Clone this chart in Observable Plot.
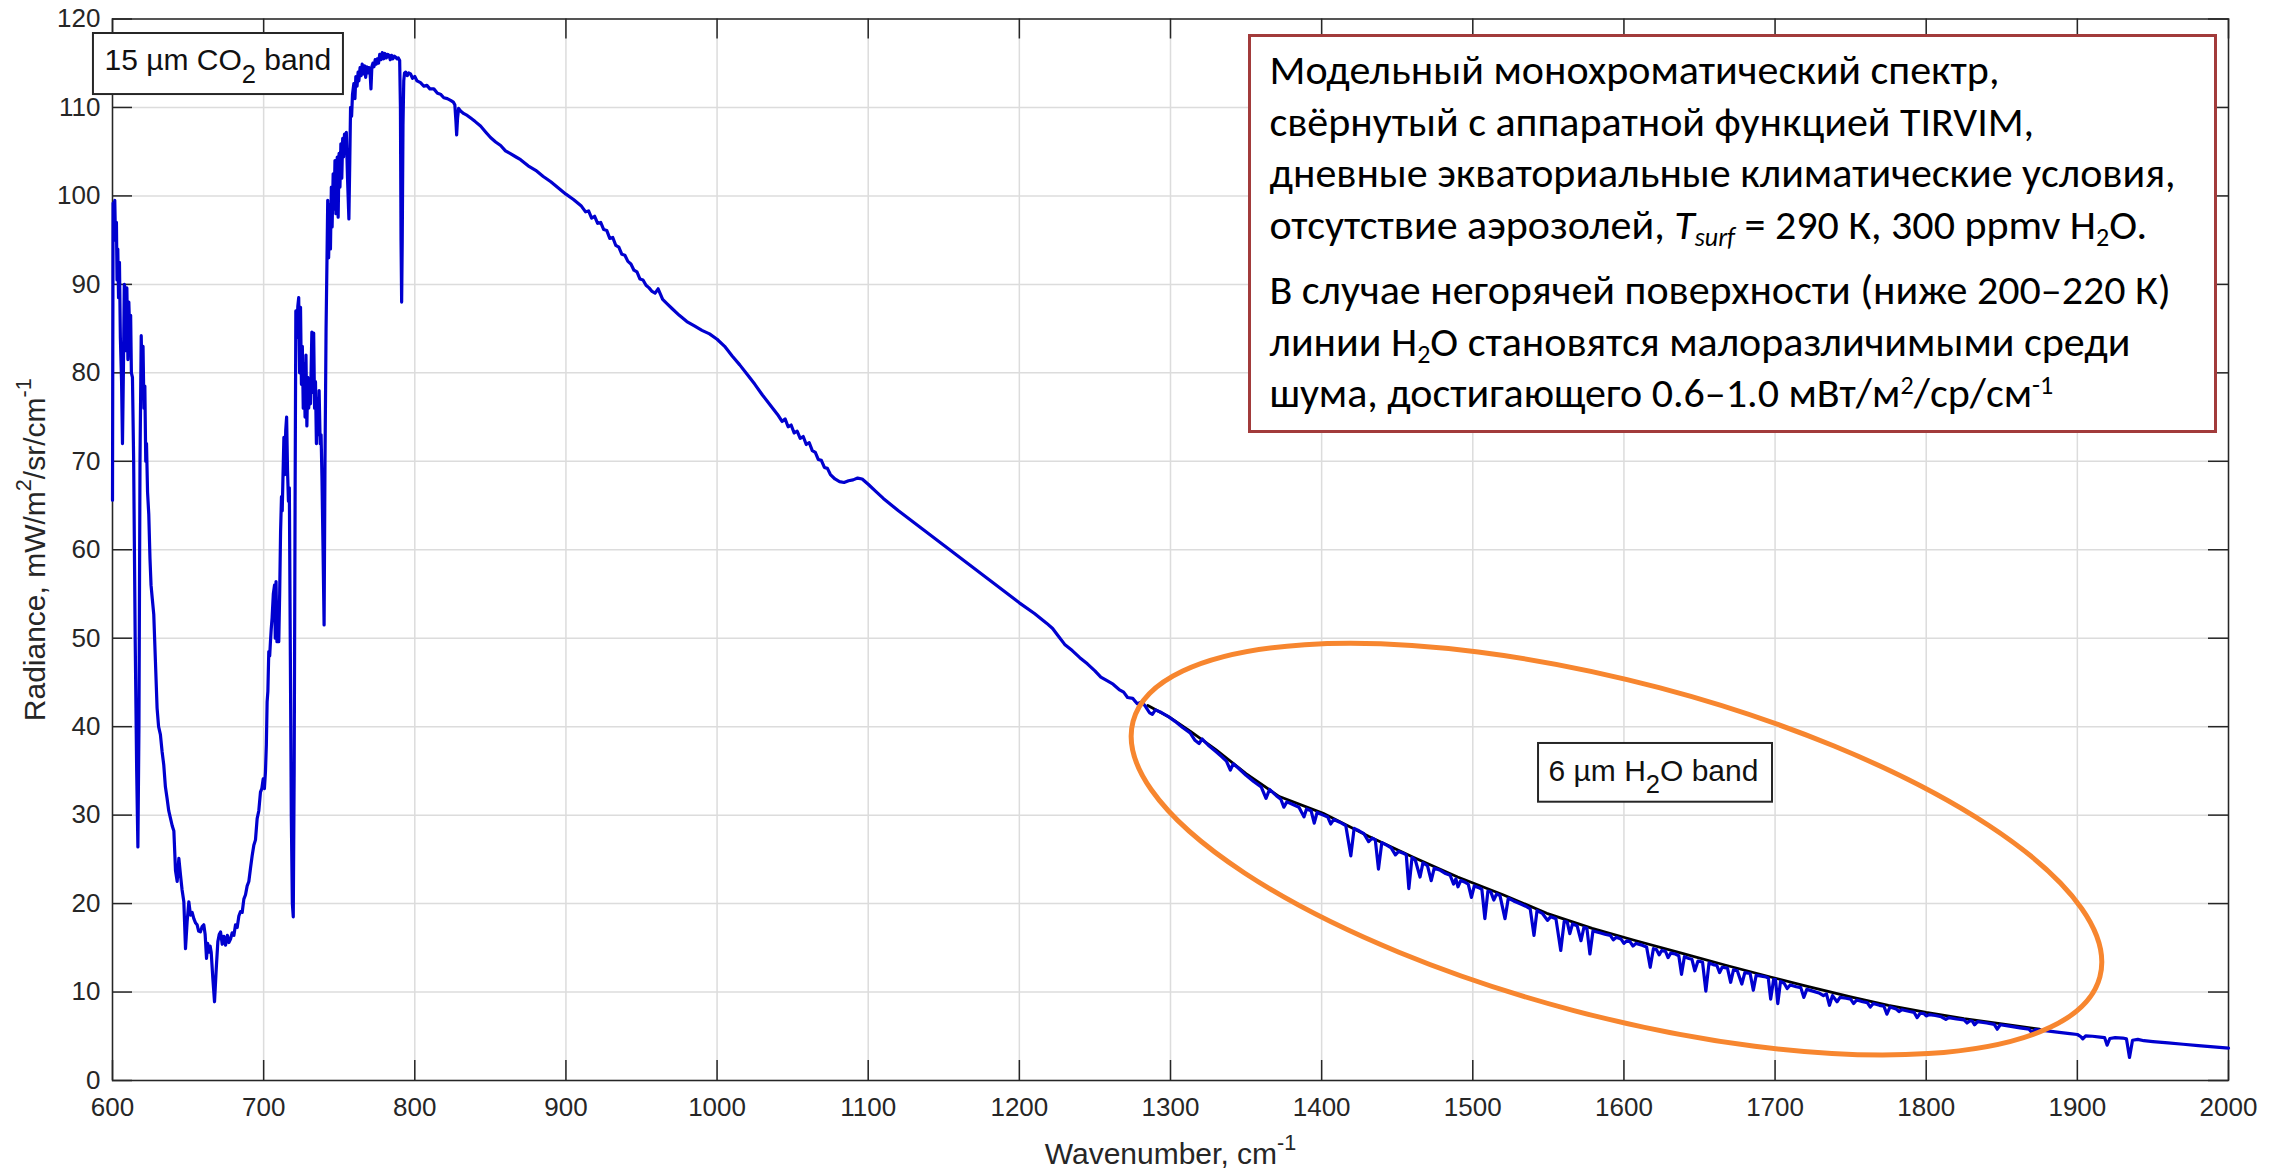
<!DOCTYPE html>
<html>
<head>
<meta charset="utf-8">
<script src="https://cdn.jsdelivr.net/npm/d3@7"></script>
<script src="https://cdn.jsdelivr.net/npm/@observablehq/plot@0.6"></script>
<style>
  html, body { margin: 0; padding: 0; background: #fff; }
  #chart { position: relative; width: 2288px; height: 1172px; overflow: hidden; }
  .note {
    position: absolute; box-sizing: border-box;
    border: 3.5px solid #a23b3b; background: #fff; color: #000;
    font-family: Carlito, Lato, "Noto Sans", sans-serif; font-size: 42px;
    line-height: 51.5px; padding: 7px 0 0 18.5px; white-space: nowrap;
  }
  .note .gap { margin-top: 14px; }
  .note sub, .note sup { font-size: 0.62em; line-height: 0; position: relative; vertical-align: baseline; }
  .note sub { top: 0.28em; }
  .note sup { top: -0.5em; }
</style>
</head>
<body>
<div id="chart"></div>
<script>
(function () {
// ---- axis ticks -------------------------------------------------------
const xTicks = [600, 700, 800, 900, 1000, 1100, 1200, 1300, 1400, 1500, 1600, 1700, 1800, 1900, 2000];
const yTicks = [0, 10, 20, 30, 40, 50, 60, 70, 80, 90, 100, 110, 120];

// ---- model spectrum, [wavenumber cm-1, radiance mW/m2/sr/cm-1] ---------
// 15 µm CO2 band
const co2Band = [
  [600.0,65.6],[600.4,99.2],[601.0,97.0],[601.5,99.5],[602.0,95.0],[602.6,97.0],[603.0,90.5],[603.5,94.0],
  [604.0,88.5],[604.6,92.5],[605.2,84.0],[606.0,79.0],[606.6,72.0],[607.2,80.0],[607.8,90.0],[608.4,89.5],
  [609.0,82.5],[609.5,89.6],[610.2,81.5],[610.8,88.0],[611.4,84.5],[612.0,86.5],[612.5,80.0],[613.2,79.5],
  [614.0,70.0],[615.0,50.0],[616.0,35.0],[616.8,26.4],[617.5,40.0],[618.2,70.0],[619.0,84.2],[619.6,79.0],
  [620.2,83.0],[620.8,76.0],[621.4,78.5],[622.0,70.0],[622.5,72.0],[623.2,66.5],[624.0,64.0],[624.8,59.0],
  [625.5,56.0],[626.3,54.5],[627.3,52.7],[628.4,47.4],[629.5,42.1],[630.5,40.0],[631.7,39.1],[632.8,37.2],
  [633.9,35.7],[635.0,33.2],[636.1,31.9],[637.2,30.5],[638.3,29.7],[639.5,28.8],[640.6,28.2],[641.7,23.7],
  [642.8,22.5],[643.9,25.1],[645.0,23.2],[646.0,21.6],[647.2,20.2],[648.3,14.9],[649.4,18.0],[650.5,20.2],
  [651.6,18.7],[652.7,19.0],[653.8,18.3],[655.0,17.8],[656.0,17.6],[657.0,16.9],[658.2,16.8],[659.3,17.4],
  [660.4,17.6],[661.3,16.5],[662.2,13.8],[663.0,15.5],[663.8,14.5],[664.6,15.2],[665.3,14.5],[666.4,11.5],
  [667.5,8.9],[668.6,12.5],[669.7,15.7],[670.6,16.5],[671.5,16.8],[672.6,15.4],[673.7,16.3],[674.8,15.3],
  [676.0,16.4],[677.0,15.6],[678.1,16.0],[679.2,16.7],[680.3,16.4],[681.4,17.6],[682.5,17.3],[683.6,18.6],
  [684.7,19.1],[685.8,19.0],[686.9,20.5],[688.0,21.0],[689.1,22.0],[690.2,22.5],[691.3,24.0],[692.4,25.4],
  [693.5,26.6],[694.6,27.2],[695.7,29.6],[696.8,30.5],[697.9,32.6],[698.8,33.0],[699.7,34.1],[700.5,33.0],
  [701.2,34.9],[701.8,38.0],[702.3,42.8],[702.8,44.0],[703.4,48.5],[704.0,48.0],[704.5,49.6],[705.0,51.0],
  [705.6,52.3],[706.4,55.0],[707.2,56.0],[707.7,50.0],[708.2,56.4],[708.8,49.6],[709.4,54.0],[710.0,49.6],
  [710.6,55.0],[711.2,62.0],[711.8,66.0],[712.3,64.4],[712.8,68.3],[713.4,72.7],[714.0,68.5],[714.6,73.5],
  [715.2,75.0],[715.8,69.0],[716.4,65.5],[717.0,67.0],[717.6,50.0],[718.3,30.0],[719.0,20.0],[719.6,18.5],
  [720.2,35.0],[720.8,65.0],[721.3,87.0],[722.0,84.0],[722.6,87.5],[723.2,88.5],[723.8,80.0],[724.4,87.4],
  [725.0,78.7],[725.6,83.0],[726.2,76.0],[726.8,81.0],[727.4,75.0],[728.0,82.0],[728.6,74.0],[729.2,79.5],
  [729.8,76.0],[730.4,78.0],[731.0,76.5],[731.9,84.6],[732.5,77.8],[733.1,84.5],[733.7,76.0],[734.3,79.0],
  [734.9,72.0],[735.5,77.0],[736.1,73.0],[736.7,78.0],[737.4,72.0],[738.0,73.0],[738.6,68.0],[739.3,60.0],
  [740.0,51.5],[740.6,70.0],[741.3,85.0],[741.9,92.7],[742.4,99.5],[743.0,93.0],[743.6,99.0],[744.2,94.0],
  [744.8,101.0],[745.3,96.5],[746.0,102.5],[746.6,98.5],[747.2,104.0],[747.8,98.0],[748.7,104.4],[749.3,97.6],
  [749.9,104.8],[750.5,101.0],[751.1,105.9],[751.7,102.0],[752.3,106.5],[752.9,104.4],[753.5,107.0],[754.1,105.0],
  [754.7,107.2],[755.5,102.0],[756.4,97.4],[757.0,104.0],[757.5,110.0],[758.2,109.0],[758.8,111.5],[759.7,112.7],
  [760.4,111.0],[761.0,113.5],[761.8,112.4],[762.5,114.0],[763.0,113.0],[763.8,114.5],[764.5,113.6],[765.2,114.9],
  [766.0,113.8],[766.8,114.7],[767.5,113.4],[768.3,114.6],[769.0,113.9],[769.6,114.5],[770.4,114.0],[771.0,112.1],
  [771.6,114.6],[772.3,115.0],[773.0,114.6],[773.8,115.4],[774.5,114.9],[775.2,115.5],[776.0,115.0],[776.8,116.0],
  [777.6,115.4],[778.5,116.2],[779.4,115.5],[780.3,116.1],[781.2,115.6],[782.1,116.0],[782.9,115.9],[783.8,115.4],
  [784.6,115.9],[785.5,115.5],[786.4,115.8],[787.3,115.7],[788.2,115.5],[789.1,115.6],[790.0,115.3],[790.5,110.0],
  [790.9,95.0],[791.3,88.0],[791.7,95.0],[792.2,108.0],[792.7,113.0],[793.2,113.9],[794.0,114.0],[795.0,113.6],
  [796.0,113.9],[797.2,113.8],[798.5,113.3],[800.0,113.5],[801.5,113.0],[803.8,112.8],[806.0,112.4],[808.0,112.5],
  [810.0,112.1],[812.6,112.1],[815.0,111.6],[817.0,111.5],[819.2,111.1],[821.5,111.0],[823.7,110.8],[825.5,110.6],
  [826.5,110.3],[827.2,108.5],[827.7,106.9],[828.3,108.8],[829.0,109.9],[830.3,109.6],[832.5,109.3],[834.7,109.1],
  [837.0,108.8],[840.0,108.4],[843.5,107.9],[847.0,107.2],[850.1,106.6],[853.5,106.1],[856.8,105.7],[860.0,105.1]
];
// atmospheric window
const windowRegion = [
  [863,104.8],[867,104.4],[870,104.1],[875,103.4],[880,102.9],[885,102.2],[890,101.6],[895,100.9],
  [900,100.2],[905,99.6],[910,98.9],[913,98.2],[915,98.3],[917,97.5],[919,97.7],[921,96.9],[923,97.0],
  [925,96.2],[927,96.1],[929,95.2],[931,95.3],[933,94.4],[935,94.2],[937,93.4],[939,93.3],[941,92.6],
  [943,92.3],[945,91.6],[947,91.4],[949,90.6],[951,90.5],[953,89.9],[955,89.6],[957,89.2],[959,89.0],
  [961,89.5],[962.5,88.9],[964,88.3],[967,87.8],[970,87.3],[975,86.5],[980,85.8],[985,85.3],[990,84.8],
  [995,84.4],[1000,83.8],[1005,83.0],[1010,81.9],[1015,80.9],[1020,79.8],[1025,78.7],[1030,77.5],
  [1035,76.4],[1040,75.3],[1043,74.5],[1045,74.8],[1047,73.9],[1049,74.1],[1051,73.2],[1053,73.4],
  [1055,72.6],[1057,72.8],[1059,71.9],[1061,72.1],[1063,71.2],[1065,71.0],[1067,70.2],[1069,70.1],
  [1071,69.3],[1073,69.2],[1075,68.5],[1078,68.0],[1081,67.7],[1084,67.6],[1087,67.8],[1090,67.9],
  [1093,68.1],[1096,68.0],[1100,67.4],[1105,66.6],[1110,65.8],[1120,64.4],[1130,63.1],[1140,61.8],
  [1150,60.5],[1160,59.2],[1170,57.9],[1180,56.6],[1190,55.3],[1200,54.0],[1210,52.8],[1218,51.7],
  [1222,51.1],[1226,50.2],[1230,49.3],[1235,48.6],[1240,47.8],[1245,47.1],[1250,46.3]
];
// 6 µm H2O band
const h2oBand = [
  [1253.9,45.6],[1258,45.2],[1262,44.8],[1266,44.2],[1269,43.9],[1271.6,43.3],[1275,43.2],[1278,42.6],
  [1281,42.8],[1283.4,42.3],[1286,41.6],[1288,41.4],[1290,41.9],[1294,41.6],[1298,41.2],[1303,40.6],
  [1308,39.9],[1313,39.3],[1316,38.5],[1318.9,38.1],[1321,38.6],[1325,37.9],[1330,37.2],[1334,36.6],
  [1337,36.1],[1339.6,35.1],[1341.5,35.8],[1345,35.3],[1350,34.5],[1355,33.8],[1360,33.2],[1363.2,31.9],
  [1365.5,32.9],[1370,32.2],[1373,31.8],[1375,30.9],[1377,31.5],[1381,31.2],[1385,30.9],[1388.3,29.8],
  [1390,30.7],[1393,30.5],[1395.1,29.1],[1397,30.3],[1401,30.0],[1404,29.8],[1406,29.0],[1408,29.5],
  [1412,29.2],[1416,28.8],[1419.3,25.4],[1421.5,28.5],[1425,28.2],[1428,27.9],[1431.1,27.0],[1433.5,27.4],
  [1435.5,27.2],[1437.6,23.9],[1439.8,26.9],[1443,26.6],[1446,26.3],[1448.8,25.5],[1451,25.9],[1454,25.7],
  [1456,25.5],[1457.7,21.7],[1459.8,25.2],[1462,24.9],[1465.1,23.0],[1467,24.6],[1470,24.3],[1472.5,22.6],
  [1474.5,24.0],[1478,23.8],[1482,23.4],[1485,23.2],[1487.3,22.2],[1488.8,22.8],[1490.2,21.9],[1492,22.6],
  [1495,22.4],[1497,22.2],[1499.1,20.7],[1501,22.0],[1504,21.8],[1506,21.6],[1508,18.3],[1510,21.4],
  [1512,21.3],[1513.9,20.4],[1515.8,21.1],[1518,20.9],[1521.3,18.3],[1523.5,20.6],[1527,20.3],[1531,20.0],
  [1535,19.7],[1538,19.4],[1540.5,16.4],[1542.5,19.2],[1546,18.9],[1549.4,18.1],[1551.5,18.5],[1555,18.3],
  [1558.2,14.7],[1560.5,18.0],[1562.5,17.9],[1564.2,16.6],[1566,17.7],[1569,17.5],[1571.6,15.8],[1573.5,17.3],
  [1575.5,17.2],[1577.5,14.3],[1579.5,16.9],[1584,16.7],[1588,16.5],[1591,16.4],[1593,15.9],[1595,16.2],
  [1598,16.0],[1600,15.5],[1602,15.8],[1604,15.7],[1606,15.2],[1608,15.5],[1612,15.3],[1615,15.1],
  [1617.4,12.8],[1619.5,14.9],[1621.5,14.8],[1623.3,14.2],[1625,14.7],[1627.5,14.6],[1629.2,13.9],[1631,14.4],
  [1634,14.3],[1636.3,14.1],[1638.1,12.0],[1640,14.0],[1643,13.8],[1645,13.7],[1646.9,12.4],[1649,13.5],
  [1652,13.4],[1654.2,10.1],[1656.3,13.3],[1659,13.1],[1661.5,13.0],[1663.3,12.2],[1665,12.8],[1668.5,12.7],
  [1670.6,11.1],[1672.5,12.5],[1675,12.4],[1678,10.9],[1680,12.2],[1683.5,12.1],[1685.6,10.2],[1687.5,11.9],
  [1691,11.8],[1694,11.7],[1695.5,11.6],[1697.1,9.2],[1699,11.4],[1700.3,11.4],[1701.8,8.7],[1703.6,11.2],
  [1706,11.0],[1708,10.4],[1710,10.8],[1714,10.6],[1717,10.5],[1719,9.4],[1721,10.3],[1725,10.1],
  [1729,9.9],[1732,9.6],[1734,9.8],[1736,8.5],[1738,9.6],[1741,8.9],[1743,9.4],[1747,9.3],
  [1750,9.2],[1752,8.7],[1754,9.1],[1758,8.9],[1761,8.8],[1763,8.3],[1765,8.7],[1769,8.5],
  [1772,8.4],[1774,7.5],[1776,8.3],[1780,8.1],[1782,7.8],[1784,8.0],[1789,7.8],[1792,7.7],
  [1794,7.1],[1796,7.6],[1798.5,7.55],[1800,7.3],[1802,7.45],[1806,7.35],[1810,7.2],[1813,6.9],
  [1815,7.1],[1820,6.95],[1825,6.85],[1827,6.5],[1829,6.75],[1830.5,6.7],[1832,6.3],[1834,6.65],
  [1840,6.5],[1845,6.35],[1847,5.8],[1849,6.3],[1855,6.15],[1862,5.95],[1868,5.8],[1870,5.4],
  [1872,5.75],[1880,5.6],[1888,5.45],[1895,5.3],[1900,5.2],[1902,5.0],[1903.6,4.7],[1905.5,5.05],
  [1910,5.0],[1915,4.9],[1918,4.85],[1919.7,4.0],[1921.5,4.75],[1925,4.85],[1930,4.8],[1932.5,4.7],
  [1934.5,2.6],[1936.5,4.55],[1940,4.65],[1944,4.5],[1950,4.4],[1960,4.25],[1970,4.1],[1980,3.95],
  [1990,3.8],[2000,3.65]
];
// line-free continuum over the H2O band
const continuumH2O = [
  [1285,42.4],[1300,41.0],[1313,39.5],[1330,37.4],[1350,34.7],[1372,32.1],[1401,30.2],[1431,27.6],
  [1461,25.2],[1490,23.0],[1520,21.0],[1549,18.9],[1579,17.2],[1608,15.8],[1638,14.4],[1668,13.0],
  [1697,11.7],[1720,10.7],[1750,9.45],[1775,8.5],[1800,7.7],[1825,7.0],[1850,6.4],[1875,5.8]
];

// ---- texts ------------------------------------------------------------
const xLabelParts = [["Wavenumber, cm"], ["-1", "sup"]];
const yLabelParts = [["Radiance, mW/m"], ["2", "sup"], ["/sr/cm"], ["-1", "sup"]];
const bandLabelParts = [
  [["15 µm CO"], ["2", "sub"], [" band"]],
  [["6 µm H"], ["2", "sub"], ["O band"]]
];
const noteParagraph1 = [
  "Модельный монохроматический спектр,",
  "свёрнутый с аппаратной функцией TIRVIM,",
  "дневные экваториальные климатические условия,",
  "отсутствие аэрозолей, <i>T</i><sub><i>surf</i></sub> = 290 К, 300 ppmv H<sub>2</sub>O."
];
const noteParagraph2 = [
  "В случае негорячей поверхности (ниже 200–220 К)",
  "линии H<sub>2</sub>O становятся малоразличимыми среди",
  "шума, достигающего 0.6–1.0 мВт/м<sup>2</sup>/ср/см<sup>-1</sup>"
];

// ---- annotation placement (data units) --------------------------------
const bandBoxes = [
  {x1: 587.4, x2: 752.8, y1: 111.46, y2: 118.36, tx: 594.7, ty: 114.18},
  {x1: 1543.5, x2: 1698.3, y1: 31.46, y2: 38.10, tx: 1550.1, ty: 33.91}
];
const noteBox = {x1: 1351.6, x2: 1992.7, y1: 73.1, y2: 118.2};
const bandEllipse = {cx: 1595.4, cy: 26.1, rx: 500, ry: 167, angle: 14.8}; // rx/ry in px, angle in deg

// ---- layout -----------------------------------------------------------
const W = 2288, H = 1172;
const M = {left: 112, right: 60, top: 18.5, bottom: 92};
const frameW = W - M.left - M.right;
const frameH = H - M.top - M.bottom;
const TICK = 20;
const ink = "#262626";
const LABEL_SIZE = 30;

const toRows = (pairs) => pairs.map(([wn, rad]) => ({wn, rad}));
const spectrum = toRows([...co2Band, ...windowRegion, ...h2oBand]);
const continuum = toRows(continuumH2O);
const plain = (parts) => parts.map((p) => p[0]).join("");

const chart = Plot.plot({
  width: W, height: H,
  marginLeft: M.left, marginRight: M.right, marginTop: M.top, marginBottom: M.bottom,
  style: {fontFamily: '"Liberation Sans", Arial, Helvetica, sans-serif', fontSize: "26px", color: ink, background: "#fff", overflow: "visible"},
  x: {domain: [600, 2000]},
  y: {domain: [0, 120]},
  marks: [
    Plot.gridX({ticks: xTicks, stroke: "#dcdcdc", strokeOpacity: 1, strokeWidth: 1.5}),
    Plot.gridY({ticks: yTicks, stroke: "#dcdcdc", strokeOpacity: 1, strokeWidth: 1.5}),
    Plot.axisX({ticks: xTicks, tickSize: 0, tickPadding: 17, tickFormat: (d) => String(d), label: null, fill: ink, fontSize: 26}),
    Plot.axisY({ticks: yTicks, tickSize: 0, tickPadding: 12, tickFormat: (d) => String(d), label: null, fill: ink, fontSize: 26}),
    // inward ticks on all four sides
    Plot.tickX(xTicks, {x: (d) => d, insetTop: frameH - TICK, stroke: ink, strokeWidth: 1.5}),
    Plot.tickX(xTicks, {x: (d) => d, insetBottom: frameH - TICK, stroke: ink, strokeWidth: 1.5}),
    Plot.tickY(yTicks, {y: (d) => d, insetRight: frameW - TICK, stroke: ink, strokeWidth: 1.5}),
    Plot.tickY(yTicks, {y: (d) => d, insetLeft: frameW - TICK, stroke: ink, strokeWidth: 1.5}),
    Plot.frame({stroke: ink, strokeWidth: 1.5}),
    Plot.line(continuum, {x: "wn", y: "rad", stroke: "#000", strokeWidth: 2.8}),
    Plot.line(spectrum, {x: "wn", y: "rad", stroke: "#0000cf", strokeWidth: 3.2, strokeLinejoin: "round"}),
    Plot.rect(bandBoxes, {x1: "x1", x2: "x2", y1: "y1", y2: "y2", fill: "#fff", stroke: ink, strokeWidth: 2}),
    Plot.text(bandBoxes, {x: "tx", y: "ty", text: (d, i) => plain(bandLabelParts[i]), textAnchor: "start", lineAnchor: "bottom",
      fontSize: 30, fill: "#111"}),
    Plot.text([plain(xLabelParts)], {frameAnchor: "bottom", dy: 83, textAnchor: "middle", lineAnchor: "bottom", fontSize: LABEL_SIZE, fill: ink}),
    Plot.text([plain(yLabelParts)], {frameAnchor: "left", dx: -68, rotate: -90, textAnchor: "middle", lineAnchor: "bottom", fontSize: LABEL_SIZE, fill: ink})
  ]
});

// rich text: subscripts / superscripts as shifted tspans
function setRich(textEl, parts, size, {sub = 0.42, sup = 0.45, scale = 0.72} = {}) {
  const NS = "http://www.w3.org/2000/svg";
  while (textEl.firstChild) textEl.removeChild(textEl.firstChild);
  let shift = 0;
  for (const [str, kind] of parts) {
    const t = document.createElementNS(NS, "tspan");
    const target = kind === "sub" ? sub * size : kind === "sup" ? -sup * size : 0;
    if (target !== shift) { t.setAttribute("dy", target - shift); shift = target; }
    if (kind) t.setAttribute("font-size", scale * size);
    t.textContent = str;
    textEl.appendChild(t);
  }
}
const richTexts = [
  ...bandLabelParts.map((parts) => ({parts, size: 30, opts: {sub: 0.42, scale: 0.85}})),
  {parts: xLabelParts, size: LABEL_SIZE, opts: {}},
  {parts: yLabelParts, size: LABEL_SIZE, opts: {}}
];
const svg = d3.select(chart);
svg.selectAll("text").each(function () {
  const match = richTexts.find((r) => plain(r.parts) === this.textContent);
  if (match) setRich(this, match.parts, match.size, match.opts);
});

// ellipse around the H2O band
const sx = chart.scale("x"), sy = chart.scale("y");
const ecx = sx.apply(bandEllipse.cx), ecy = sy.apply(bandEllipse.cy);
svg.append("ellipse")
  .attr("cx", ecx).attr("cy", ecy)
  .attr("rx", bandEllipse.rx).attr("ry", bandEllipse.ry)
  .attr("transform", `rotate(${bandEllipse.angle},${ecx},${ecy})`)
  .attr("fill", "none").attr("stroke", "#f7862f").attr("stroke-width", 5);

const container = document.getElementById("chart");
container.appendChild(chart);

// description box
const note = document.createElement("div");
note.className = "note";
const boxLeft = sx.apply(noteBox.x1), boxRight = sx.apply(noteBox.x2);
const boxTop = sy.apply(noteBox.y2), boxBottom = sy.apply(noteBox.y1);
Object.assign(note.style, {left: boxLeft + "px", top: boxTop + "px", width: (boxRight - boxLeft) + "px", height: (boxBottom - boxTop) + "px"});
note.innerHTML =
  noteParagraph1.map((l) => `<div>${l}</div>`).join("") +
  noteParagraph2.map((l, i) => `<div class="${i === 0 ? "gap" : ""}">${l}</div>`).join("");
container.appendChild(note);
})();
</script>
</body>
</html>
